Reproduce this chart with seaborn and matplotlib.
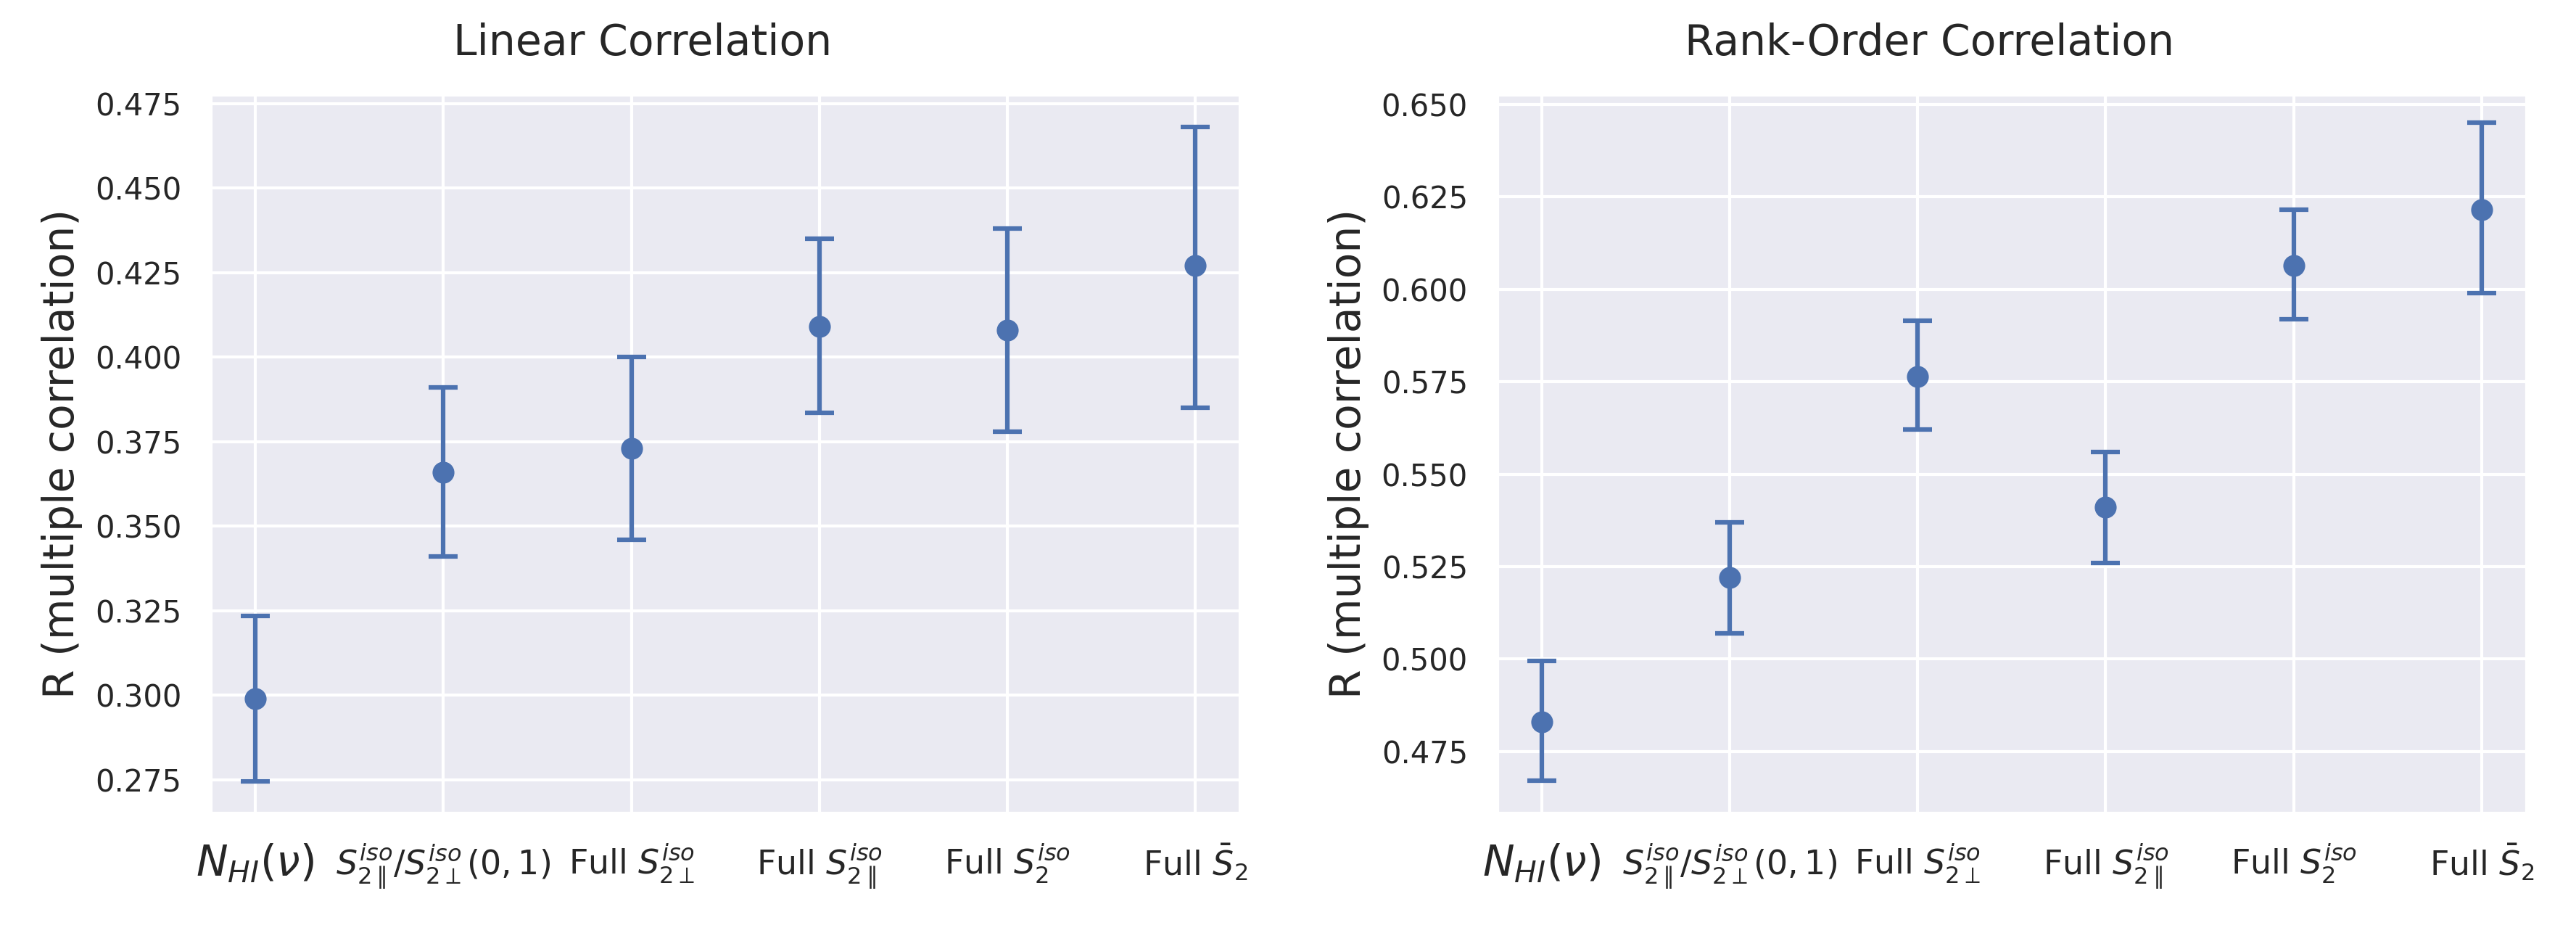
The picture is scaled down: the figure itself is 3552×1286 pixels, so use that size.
import numpy as np
import matplotlib
matplotlib.use('Agg')
import matplotlib.pyplot as plt
import seaborn as sns

labels = [r'$N_{HI}(\nu)$',
          r'$S_{2\parallel}^{iso}/S_{2\perp}^{iso}(0,1)$',
          r'Full $S_{2\perp}^{iso}$',
          r'Full $S_{2\parallel}^{iso}$',
          r'Full $S_{2}^{iso}$',
          r'Full $\bar{S}_2$']

lin_r = [0.299, 0.366, 0.373, 0.409, 0.408, 0.427]
lin_lo = [0.2745, 0.341, 0.346, 0.3835, 0.378, 0.385]
lin_hi = [0.3235, 0.391, 0.400, 0.435, 0.438, 0.468]

rank_r = [0.483, 0.522, 0.5765, 0.541, 0.6065, 0.6215]
rank_lo = [0.467, 0.507, 0.562, 0.526, 0.592, 0.599]
rank_hi = [0.4995, 0.537, 0.5915, 0.556, 0.6215, 0.645]

titles = ['Linear Correlation', 'Rank-Order Correlation']

sns.set_theme(style='darkgrid')
col = sns.color_palette('deep')[0]

fig, axes = plt.subplots(1, 2, figsize=(11.84, 4.2867))
fig.subplots_adjust(left=0.0816, right=0.9809, bottom=0.1283, top=0.8989, wspace=0.2486)

for ax, r, lo, hi, t in zip(axes, [lin_r, rank_r], [lin_lo, rank_lo], [lin_hi, rank_hi], titles):
    x = np.arange(len(labels))
    r = np.array(r)
    err = [r - np.array(lo), np.array(hi) - r]
    ax.errorbar(x, r, yerr=err, fmt='none', ecolor=col, elinewidth=1.5, capsize=4.7, capthick=1.5)
    sns.scatterplot(x=x, y=r, ax=ax, color=col, s=45, edgecolor=col, zorder=3)
    ax.set_xticks(x)
    ax.set_xticklabels(labels, fontsize=11)
    ax.get_xticklabels()[0].set_fontsize(14)
    ax.tick_params(axis='y', labelsize=10)
    # title sits centred over axes + ylabel, not the axes alone
    ax.set_title(t, fontsize=14, pad=13, x=0.42)
    ax.set_ylabel('R (multiple correlation)', fontsize=14)
    ax.set_xlim(-0.24, 5.24)

axes[0].set_ylim(0.2651, 0.4777)
axes[0].set_yticks(np.arange(0.275, 0.4751, 0.025))
axes[1].set_ylim(0.45825, 0.65275)
axes[1].set_yticks(np.arange(0.475, 0.6501, 0.025))

fig.savefig('out.png', dpi=300)
